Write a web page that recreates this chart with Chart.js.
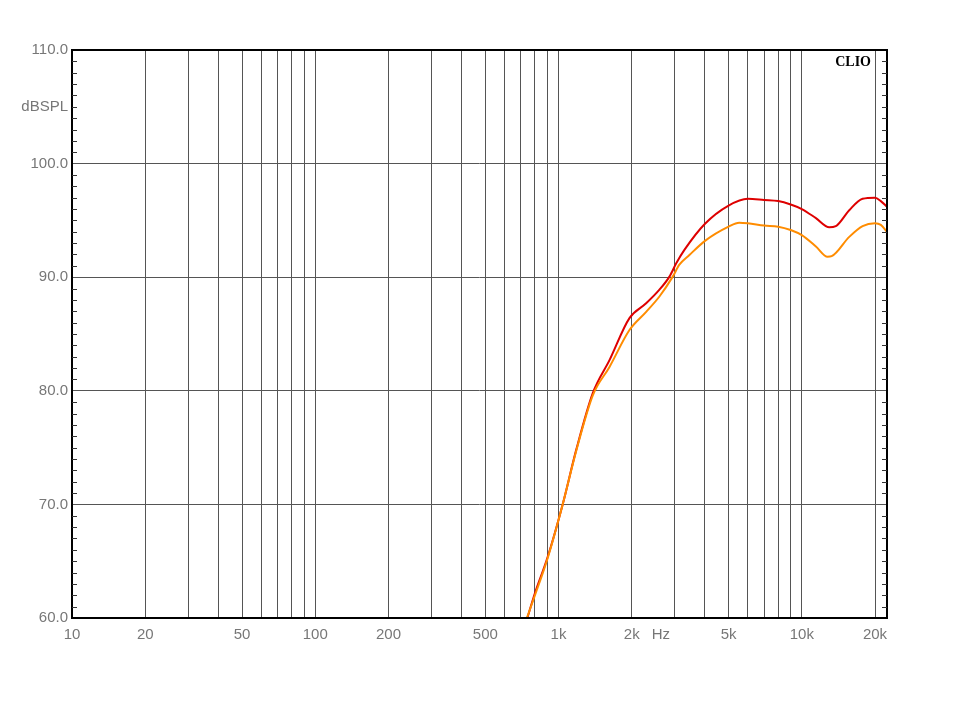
<!DOCTYPE html>
<html>
<head>
<meta charset="utf-8">
<script src="https://cdn.jsdelivr.net/npm/chart.js@4/dist/chart.umd.min.js"></script>
<style>
  body { margin: 0; background: #fff; }
  canvas { display: block; }
</style>
</head>
<body>
<canvas id="myChart" width="960" height="720"></canvas>
<script>
// frequency response data (Hz / dB SPL)
const redFreq = [735, 800, 900, 1040, 1182, 1383, 1620, 1957, 2292, 2599, 2857, 3043, 3292, 4000, 5000, 6000, 7000, 8000, 9000, 10000, 11430, 12970, 13800, 15670, 17780, 20000, 21130, 22400];
const redDb = [59.6, 62.2, 65.3, 70.0, 74.8, 79.8, 82.7, 86.4, 87.7, 88.9, 90.05, 91.2, 92.4, 94.7, 96.3, 96.9, 96.8, 96.7, 96.4, 96.0, 95.2, 94.4, 94.5, 95.9, 96.9, 97.0, 96.7, 96.2];

const orangeFreq = [730, 800, 900, 1040, 1182, 1383, 1620, 1957, 2292, 2599, 2948, 3139, 3451, 4000, 5000, 5530, 6000, 7000, 8000, 9000, 10000, 11430, 12760, 13270, 15670, 17780, 20000, 21130, 22400];
const orangeDb = [59.6, 62.0, 65.2, 70.0, 74.7, 79.6, 82.1, 85.35, 86.95, 88.3, 90.05, 91.1, 91.95, 93.2, 94.45, 94.8, 94.75, 94.55, 94.45, 94.15, 93.7, 92.7, 91.8, 91.85, 93.55, 94.5, 94.75, 94.6, 94.0];

// grid lines and labels
const gridFreqs = [10, 20, 30, 40, 50, 60, 70, 80, 90, 100, 200, 300, 400, 500, 600, 700, 800, 900,
  1000, 2000, 3000, 4000, 5000, 6000, 7000, 8000, 9000, 10000, 20000];
const freqLabels = { 10: "10", 20: "20", 50: "50", 100: "100", 200: "200", 500: "500",
  1000: "1k", 2000: "2k", 5000: "5k", 10000: "10k", 20000: "20k" };

const toPoints = (fs, ds) => fs.map((f, i) => ({ x: f, y: ds[i] }));

// extra text + frame + minor dB ticks
const clioDecor = {
  id: "clioDecor",
  afterDraw(chart) {
    const c = chart.ctx;
    const a = chart.chartArea;
    const y = chart.scales.y;
    c.save();
    c.strokeStyle = "#000";
    c.lineWidth = 2;
    c.strokeRect(a.left, a.top, a.right - a.left, a.bottom - a.top);
    c.lineWidth = 1;
    c.strokeStyle = "#333";
    for (let v = 61; v < 110; v++) {
      if (v % 10 === 0) continue;
      const py = Math.round(y.getPixelForValue(v)) + 0.5;
      c.beginPath();
      c.moveTo(a.left, py); c.lineTo(a.left + 5, py);
      c.moveTo(a.right, py); c.lineTo(a.right - 5, py);
      c.stroke();
    }
    c.fillStyle = "#777";
    c.font = "15px 'Liberation Sans', Arial, sans-serif";
    c.textAlign = "right";
    c.textBaseline = "middle";
    c.fillText("dBSPL", a.left - 4, y.getPixelForValue(105));
    c.textAlign = "left";
    c.textBaseline = "top";
    const x = chart.scales.x;
    c.fillText("Hz", x.getPixelForValue(2000) + 20, a.bottom + 9);
    c.fillStyle = "#000";
    c.font = "bold 14px 'Liberation Serif', 'Times New Roman', serif";
    c.textAlign = "right";
    c.textBaseline = "middle";
    c.fillText("CLIO", a.right - 16, a.top + 12);
    c.restore();
  }
};

const ctx = document.getElementById("myChart").getContext("2d");
const myChart = new Chart(ctx, {
  type: "line",
  data: {
    datasets: [
      {
        label: "orange",
        data: toPoints(orangeFreq, orangeDb),
        borderColor: "rgb(255, 140, 0)",
        borderWidth: 2,
        pointRadius: 0,
        cubicInterpolationMode: "monotone",
      },
      {
        label: "red",
        data: toPoints(redFreq, redDb),
        borderColor: "rgb(222, 0, 0)",
        borderWidth: 2,
        pointRadius: 0,
        cubicInterpolationMode: "monotone",
      },
    ],
  },
  options: {
    responsive: false,
    animation: false,
    layout: { padding: { left: 0, right: 73, top: 50, bottom: 72 } },
    plugins: { legend: { display: false }, tooltip: { enabled: false } },
    scales: {
      x: {
        type: "logarithmic",
        min: 10,
        max: 22400,
        afterBuildTicks: (axis) => {
          axis.ticks = gridFreqs.map((v) => ({ value: v }));
        },
        afterFit: (axis) => { axis.height = 30; },
        grid: { color: "#555", lineWidth: 1, drawTicks: false },
        border: { display: false },
        ticks: {
          autoSkip: false,
          maxRotation: 0,
          padding: 8,
          color: "#777",
          font: { family: "'Liberation Sans', Arial, sans-serif", size: 15 },
          callback: (v) => freqLabels[v] || "",
        },
      },
      y: {
        min: 60,
        max: 110,
        afterFit: (axis) => { axis.width = 72; },
        grid: { color: "#555", lineWidth: 1, drawTicks: false },
        border: { display: false },
        ticks: {
          stepSize: 10,
          padding: 4,
          color: "#777",
          font: { family: "'Liberation Sans', Arial, sans-serif", size: 15 },
          callback: (v) => v.toFixed(1),
        },
      },
    },
  },
  plugins: [clioDecor],
});
</script>
</body>
</html>
